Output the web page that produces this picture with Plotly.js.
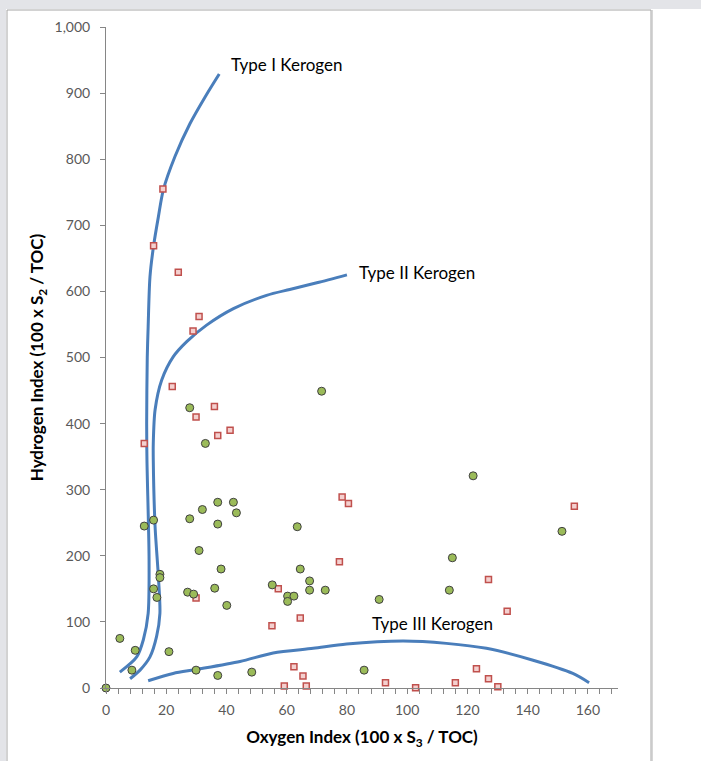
<!DOCTYPE html>
<html>
<head>
<meta charset="utf-8">
<script src="https://cdn.plot.ly/plotly-3.0.1.min.js"></script>
<style>
  html, body { margin: 0; padding: 0; background: #ffffff; }
  #chart { width: 701px; height: 761px; }
</style>
</head>
<body>
<div id="chart"></div>
<script>
// ---- Data ----
// Sample points: green circles
const greenX = [0, 4.6, 9.7, 8.6, 12.7, 15.8, 17.9, 17.9, 15.8, 16.9, 20.9, 27.8, 32.0, 37.1, 42.3, 43.3, 37.1, 30.9, 38.2, 27.1, 29.1, 36.1, 40.1, 29.9, 37.1, 48.4, 55.2, 27.8, 33.0, 71.6, 121.9, 151.4, 63.5, 64.5, 67.6, 67.6, 72.8, 60.3, 62.4, 60.3, 90.7, 115.0, 114.0, 85.7];
const greenY = [0, 75, 57, 27, 245, 254, 172, 167, 150, 137, 55, 256, 270, 281, 281, 265, 248, 208, 180, 145, 142, 151, 125, 27, 19, 24, 156, 424, 370, 449, 321, 237, 244, 180, 162, 148, 148, 139, 139, 131, 134, 197, 148, 27];

// Sample points: red squares
const redX = [18.9, 15.8, 24.0, 30.9, 28.9, 22.0, 36.0, 29.9, 41.2, 37.1, 12.7, 29.9, 57.2, 55.1, 59.2, 78.4, 80.5, 77.5, 64.5, 127.0, 133.2, 155.5, 62.4, 65.4, 66.5, 92.8, 102.8, 116.0, 123.0, 127.0, 130.1];
const redY = [755, 669, 629, 562, 540, 456, 426, 410, 390, 382, 370, 136, 150, 94, 3, 289, 279, 191, 106, 164, 116, 275, 32, 18, 3, 8, 0.5, 8, 29, 14, 2];

// Kerogen type reference curves
const typeIX = [4.6, 10.2, 12.4, 14.0, 14.3, 13.6, 13.5, 13.7, 14.0, 14.6, 15.8, 17.4, 19.0, 22.9, 27.9, 33.0, 37.6];
const typeIY = [24, 47, 73, 113, 194, 345, 400, 500, 547, 622, 669, 713, 753, 804, 854, 895, 929];

const typeIIX = [8.0, 11.3, 14.6, 16.8, 17.9, 17.4, 16.3, 15.7, 15.7, 16.3, 18.5, 22.3, 26.8, 33.4, 42.3, 53.3, 61.0, 70.0, 80.0];
const typeIIY = [14, 27, 47, 78, 113, 168, 244, 345, 370, 421, 466, 501, 524, 549, 574, 594, 603, 613, 625];

const typeIIIX = [14.0, 22.3, 30.0, 44.5, 55.5, 68.8, 79.9, 98.7, 113.0, 126.3, 141.8, 155.0, 160.4];
const typeIIIY = [11, 22, 28, 40, 53, 60, 66.5, 71, 67.5, 60, 42, 22, 8];

// Curve labels
const curveLabels = ["Type I Kerogen", "Type II Kerogen", "Type III Kerogen"];
const labelX = [41.0, 83.5, 87.8];
const labelY = [944, 629, 97];

// Axis titles
const xTitle = "Oxygen Index (100 x S<sub>3</sub> / TOC)";
const yTitle = "Hydrogen Index (100 x S<sub>2</sub> / TOC)";

// ---- Layout constants (pixels) ----
const W = 701, H = 761;
const L = 106, R = 618, T = 27, B = 688;
const px = v => (v - L) / (R - L);
const py = v => (B - v) / (B - T);

const lineStyle = {color: '#4a7ebb', width: 3, shape: 'spline', smoothing: 0.8};
const FONT = 'Lato, "Open Sans", sans-serif';

const traces = [
  {x: typeIX, y: typeIY, mode: 'lines', line: lineStyle, hoverinfo: 'skip'},
  {x: typeIIX, y: typeIIY, mode: 'lines', line: lineStyle, hoverinfo: 'skip'},
  {x: typeIIIX, y: typeIIIY, mode: 'lines', line: lineStyle, hoverinfo: 'skip'},
  {x: redX, y: redY, mode: 'markers', cliponaxis: false,
   marker: {symbol: 'square', size: 6, color: '#f4d0cf', line: {color: '#c0504d', width: 1.5}}},
  {x: greenX, y: greenY, mode: 'markers', cliponaxis: false,
   marker: {symbol: 'circle', size: 8, color: '#9bbb59', line: {color: '#404040', width: 1}}}
];

const annotations = curveLabels.map((t, i) => ({
  x: labelX[i], y: labelY[i], xref: 'x', yref: 'y', text: t,
  showarrow: false, xanchor: 'left', yanchor: 'middle',
  font: {family: FONT, size: 17, color: '#000000'}
}));

const shapes = [
  // window gray strips
  {type: 'rect', xref: 'paper', yref: 'paper', x0: px(0), x1: px(W), y0: py(9), y1: py(0),
   fillcolor: '#e3e4e8', line: {width: 0}, layer: 'below'},
  {type: 'rect', xref: 'paper', yref: 'paper', x0: px(0), x1: px(6), y0: py(H + 5), y1: py(0),
   fillcolor: '#e3e4e8', line: {width: 0}, layer: 'below'},
  // chart border
  {type: 'rect', xref: 'paper', yref: 'paper', x0: px(7), x1: px(651), y0: py(H + 10), y1: py(10),
   fillcolor: 'rgba(0,0,0,0)', line: {color: '#a6a6a6', width: 1}, layer: 'below'},
  {type: 'line', xref: 'paper', yref: 'paper', x0: px(652), x1: px(652), y0: py(H + 10), y1: py(10),
   line: {color: '#c8c8c8', width: 1.5}, layer: 'below'}
];

const layout = {
  width: W, height: H,
  margin: {l: L, r: W - R, t: T, b: H - B, pad: 0},
  paper_bgcolor: '#ffffff', plot_bgcolor: '#ffffff',
  showlegend: false, hovermode: false,
  font: {family: FONT, size: 14, color: '#595959'},
  xaxis: {
    range: [0, 170], dtick: 20, tick0: 0,
    showgrid: false, zeroline: false,
    showline: true, linecolor: '#868686', linewidth: 1,
    ticks: 'outside', ticklen: 5, tickcolor: '#868686', tickwidth: 1,
    ticklabelstandoff: 4,
    minor: {dtick: 4, tick0: 0, ticks: 'outside', ticklen: 5, tickcolor: '#868686', tickwidth: 1, showgrid: false},
    tickfont: {family: FONT, size: 14, color: '#595959'},
    title: {text: xTitle, standoff: 14, font: {family: FONT, size: 17, color: '#000000', weight: 'bold'}}
  },
  yaxis: {
    range: [0, 1000], dtick: 100, tick0: 0, tickformat: ',d',
    showgrid: false, zeroline: false,
    showline: true, linecolor: '#868686', linewidth: 1,
    ticks: 'outside', ticklen: 5, tickcolor: '#868686', tickwidth: 1,
    ticklabelstandoff: 7,
    tickfont: {family: FONT, size: 14, color: '#595959'},
    title: {text: yTitle, standoff: 6, font: {family: FONT, size: 17, color: '#000000', weight: 'bold'}}
  },
  annotations: annotations,
  shapes: shapes
};

Plotly.newPlot('chart', traces, layout, {staticPlot: true, displayModeBar: false});
</script>
</body>
</html>
